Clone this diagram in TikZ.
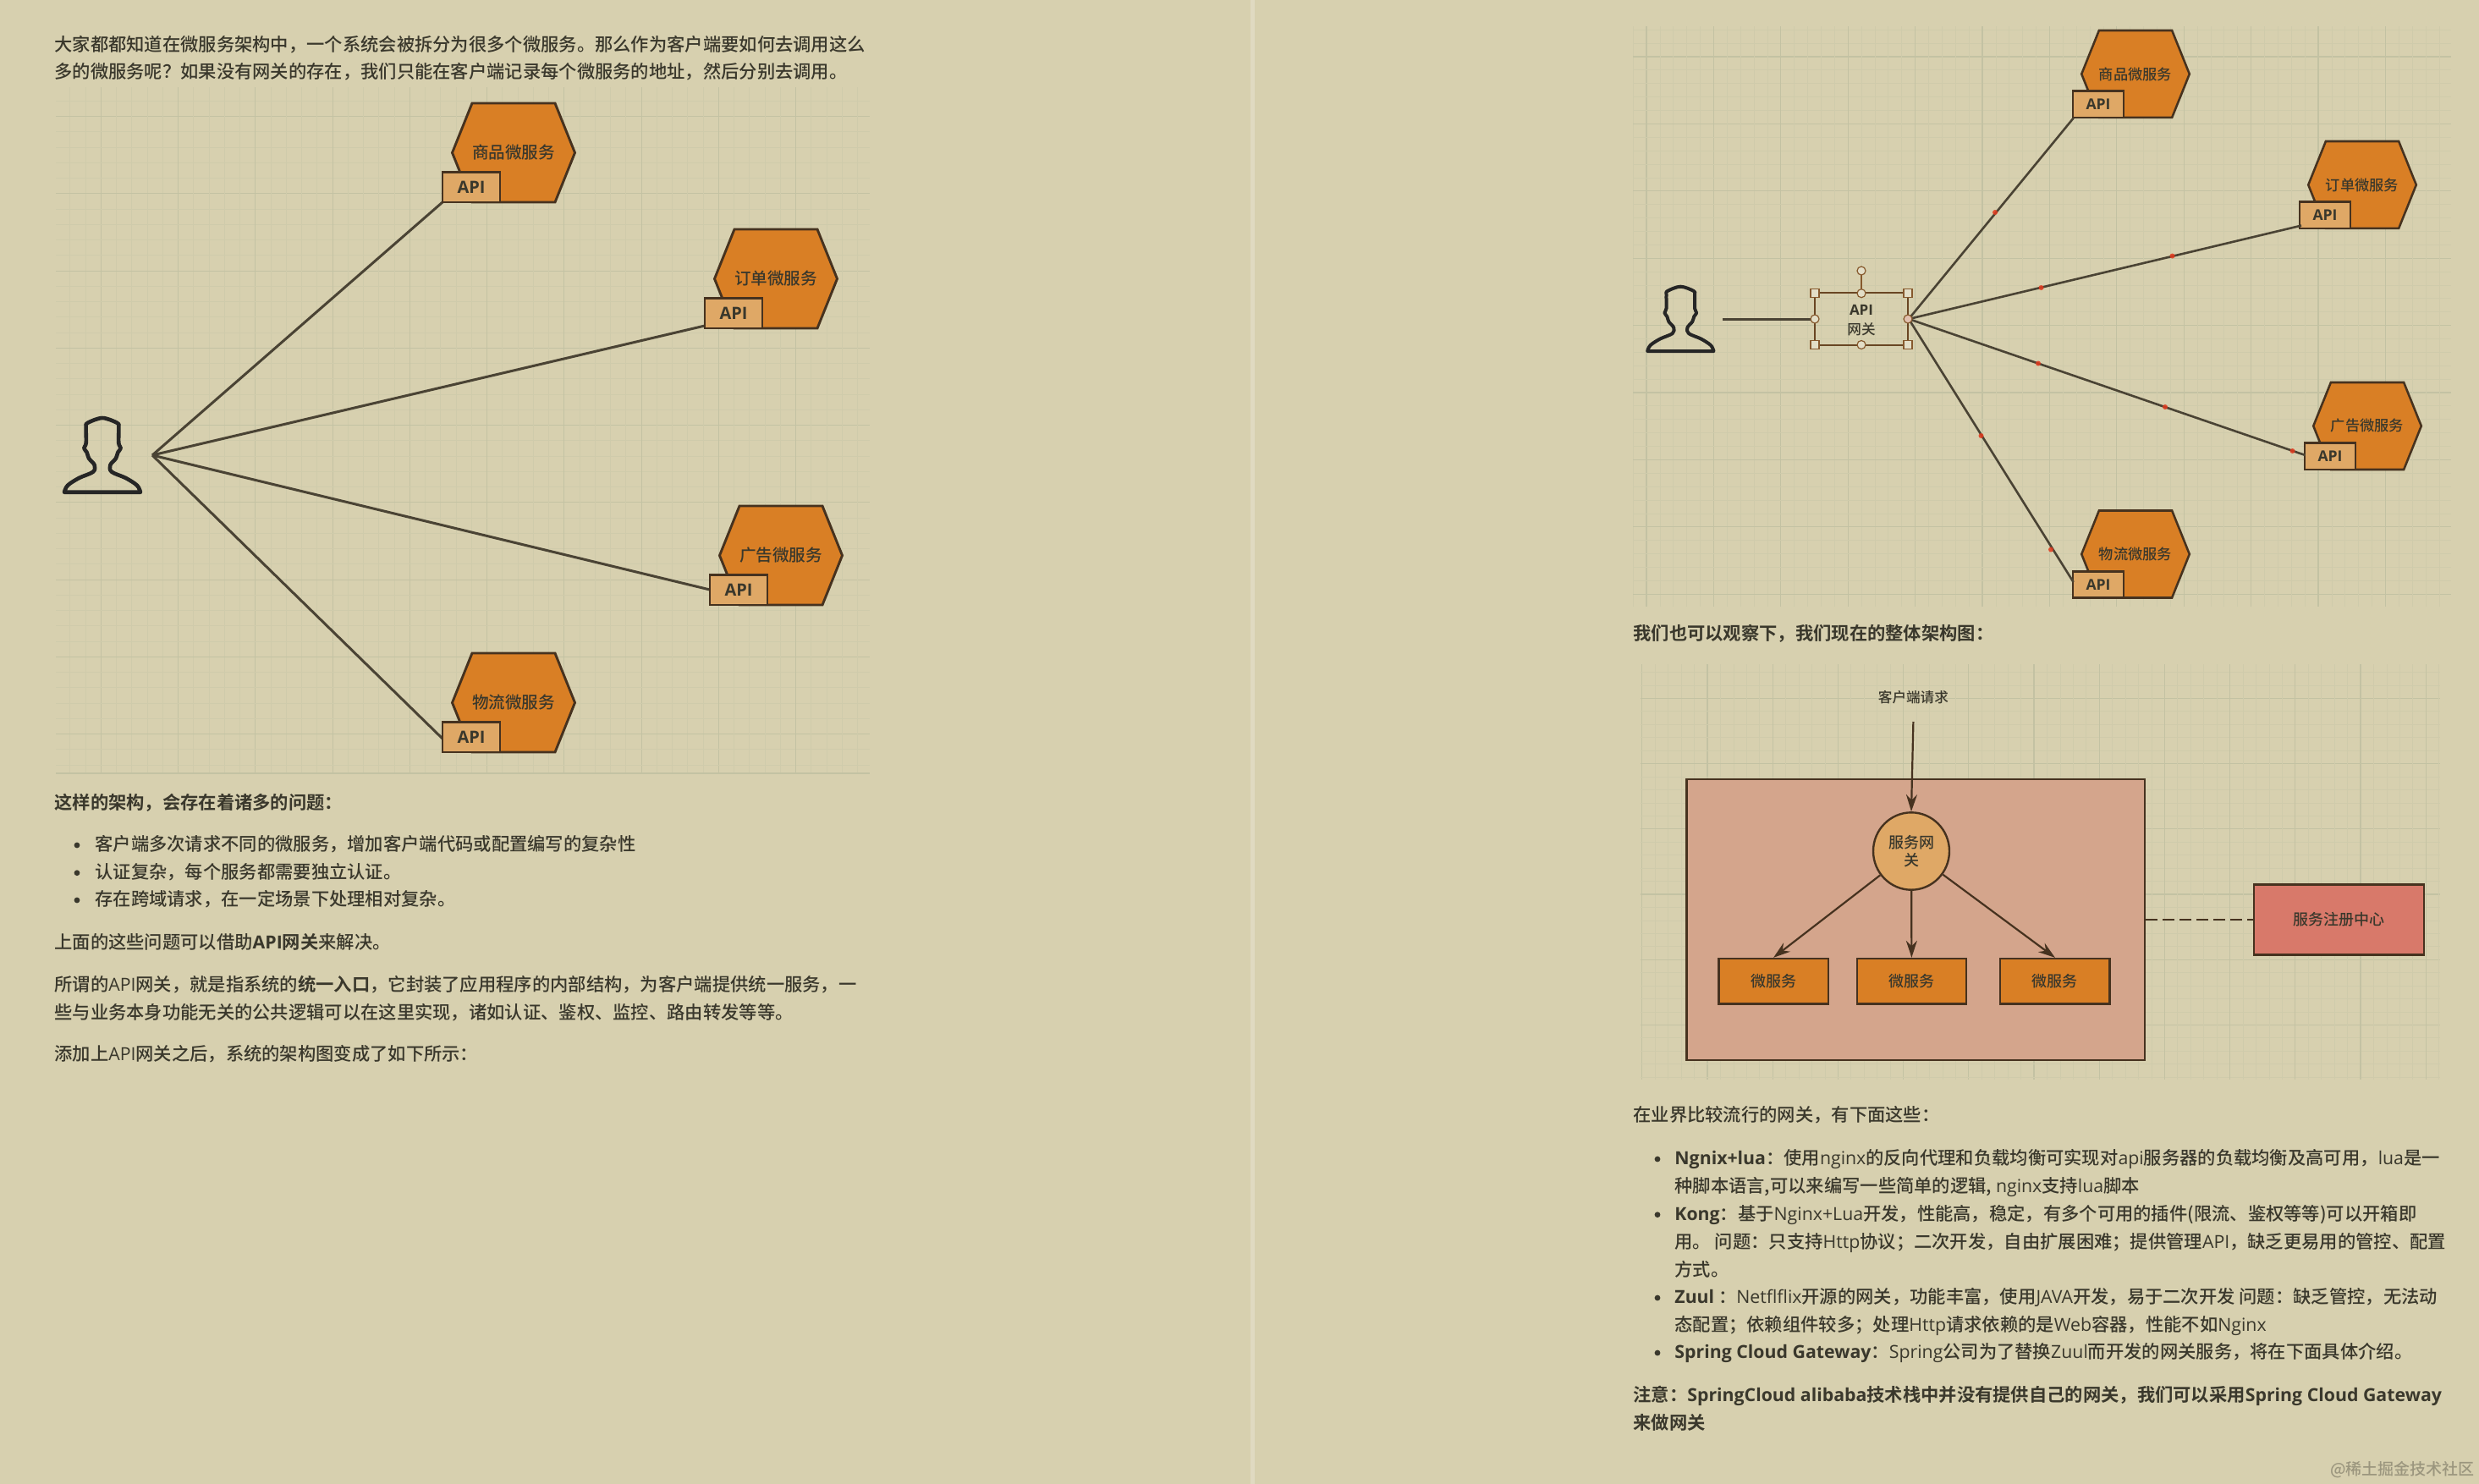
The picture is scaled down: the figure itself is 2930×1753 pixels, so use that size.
\documentclass[tikz,border=0pt]{standalone}
\usepackage{fontspec}
\setmainfont{Noto Sans CJK SC}[UprightFont=* Medium,BoldFont=* Bold]
\newfontfamily\latinfont{Open Sans}
\usetikzlibrary{arrows.meta,shapes.geometric}
\newcommand\la[1]{{\latinfont #1}}
\definecolor{paper}{HTML}{D7D0AF}
\definecolor{gridmajor}{HTML}{C3C2A3}
\definecolor{gridminor}{HTML}{CFCBAB}
\definecolor{inkc}{HTML}{3A382C}
\definecolor{edgec}{HTML}{46321F}
\definecolor{orangec}{HTML}{D97F25}
\definecolor{tanc}{HTML}{DFA866}
\definecolor{pinkc}{HTML}{D4A58C}
\definecolor{regc}{HTML}{D8796A}
\definecolor{linkc}{HTML}{4A4334}
\tikzset{
  txtline/.style={anchor=base west,inner sep=0pt,text=inkc,font=\fontsize{10.65}{12}\selectfont},
  bulletdot/.style={circle,fill=inkc,inner sep=0pt,minimum size=3.4pt},
  conn/.style={draw=linkc,line width=1.5pt},
  connr/.style={draw=linkc,line width=1.3pt},
  reddot/.style={circle,fill=red!55!brown,opacity=.85,inner sep=0pt,minimum size=3pt},
  hexsty/.style={draw=edgec,fill=orangec,line join=miter},
  apisty/.style={draw=edgec,fill=tanc,rectangle,inner sep=0pt,text=inkc},
  hexlabel/.style={inner sep=0pt,text=inkc},
  flowbox/.style={draw=edgec,line width=1.2pt,rectangle,inner sep=0pt,text=inkc,font=\fontsize{9}{10.5}\selectfont},
  flowarrow/.style={draw=edgec,line width=1.1pt,-{Stealth[length=10pt,width=6.5pt]}},
  handlesq/.style={draw=brown!70!black,fill=paper!70!white,line width=.6pt,rectangle,inner sep=0pt,minimum size=5pt},
  handlecirc/.style={draw=brown!70!black,fill=paper!70!white,line width=.6pt,circle,inner sep=0pt,minimum size=5pt},
  personicon/.pic={
    \draw[line width=#1,draw=black!85,line join=round]
      plot[smooth,tension=.55] coordinates {(-45,0) (-41,-8) (-27.7,-16.7) (-11,-24) (-9.3,-32) (-16,-40) (-18.3,-47) (-21.7,-52) (-19.3,-58) (-19.3,-77) (-17.7,-81.7) (0,-87.7) (17.7,-81.7) (19.3,-77) (19.3,-58) (21.7,-52) (18.3,-47) (16,-40) (9.3,-32) (11,-24) (27.7,-16.7) (41,-8) (45,0)} -- cycle;
  }
}
% name, centre x, top y, scale, label
\newcommand\svc[5]{%
  \pgfmathsetmacro\hta{#2-49*#4}\pgfmathsetmacro\htb{#2+49*#4}%
  \pgfmathsetmacro\hva{#2-72.5*#4}\pgfmathsetmacro\hvb{#2+72.5*#4}%
  \pgfmathsetmacro\hbot{#3+117*#4}\pgfmathsetmacro\hmid{#3+58.5*#4}%
  \pgfmathsetmacro\apix{#2-50*#4}\pgfmathsetmacro\apiy{#3+(117-17.75)*#4}%
  \pgfmathsetmacro\apiw{34*#4}\pgfmathsetmacro\apih{17.75*#4}%
  \pgfmathsetmacro\fsa{9.8*#4}\pgfmathsetmacro\fsb{10*#4}\pgfmathsetmacro\lw{1.45*#4}%
  \draw[hexsty,line width=\lw pt] (\hta,#3) -- (\htb,#3) -- (\hvb,\hmid) -- (\htb,\hbot) -- (\hta,\hbot) -- (\hva,\hmid) -- cycle;
  \node[hexlabel,font=\fontsize{\fsa}{\fsa}\selectfont] (#1) at (#2,\hmid) {#5};
  \node[apisty,line width=\lw pt,minimum width=\apiw pt,minimum height=\apih pt,font=\latinfont\bfseries\fontsize{\fsb}{\fsb}\selectfont] (#1api) at (\apix,\apiy) {API};
}
% x0 y0 x1 y1 xmajor ymajor spacing
\newcommand\gridzone[7]{%
  \begin{scope}
    \clip (#1,#2) rectangle (#3,#4);
    \foreach \i in {-10,...,60}{%
      \pgfmathtruncatemacro\md{mod(\i+100,5)}%
      \pgfmathsetmacro\gx{#5+\i*#7/5}%
      \pgfmathsetmacro\gy{#6+\i*#7/5}%
      \ifnum\md=0
        \draw[gridmajor,line width=.55pt] (\gx,#2) -- (\gx,#4);
        \draw[gridmajor,line width=.55pt] (#1,\gy) -- (#3,\gy);
      \else
        \draw[gridminor,line width=.4pt] (\gx,#2) -- (\gx,#4);
        \draw[gridminor,line width=.4pt] (#1,\gy) -- (#3,\gy);
      \fi
    }
  \end{scope}
}
\begin{document}
\begin{tikzpicture}[x=0.5pt,y=-0.5pt]
\path[use as bounding box] (0,0) rectangle (2930,1753);
\fill[paper] (-6,-6) rectangle (2936,1760);
\fill[paper!78!white] (1478,-6) rectangle (1483,1760);

% ---------- grids
\gridzone{66}{103}{1028}{914}{119.3}{137.6}{91.25}
\draw[gridmajor,line width=.55pt] (66,914) -- (1028,914);
\gridzone{1930}{31}{2897}{717}{1946}{67}{79.4}
\gridzone{1939}{785}{2884}{1276}{2018}{825.4}{77.2}

% ---------- left text
\node[txtline] (la) at (64,60.5) {大家都都知道在微服务架构中，一个系统会被拆分为很多个微服务。那么作为客户端要如何去调用这么};
\node[txtline] (lb) at (64,92.5) {多的微服务呢？如果没有网关的存在，我们只能在客户端记录每个微服务的地址，然后分别去调用。};
\node[txtline] (lc) at (64,956) {\bfseries 这样的架构，会存在着诸多的问题：};
\node[bulletdot] (lbd) at (91,999) {};
\node[txtline] (ld) at (112,1005) {客户端多次请求不同的微服务，增加客户端代码或配置编写的复杂性};
\node[bulletdot] (lbe) at (91,1031.7) {};
\node[txtline] (le) at (112,1038) {认证复杂，每个服务都需要独立认证。};
\node[bulletdot] (lbf) at (91,1064) {};
\node[txtline] (lf) at (112,1070) {存在跨域请求，在一定场景下处理相对复杂。};
\node[txtline] (lg) at (64,1121) {上面的这些问题可以借助\textbf{\la{API}网关}来解决。};
\node[txtline] (lh) at (64,1171) {所谓的\la{API}网关，就是指系统的\textbf{统一入口}，它封装了应用程序的内部结构，为客户端提供统一服务，一};
\node[txtline] (li) at (64,1204) {些与业务本身功能无关的公共逻辑可以在这里实现，诸如认证、鉴权、监控、路由转发等等。};
\node[txtline] (lj) at (64,1253) {添加上\la{API}网关之后，系统的架构图变成了如下所示：};

% ---------- left diagram
\coordinate (hubL) at (180,538);
\draw[conn] (hubL) -- (523,239);
\draw[conn] (hubL) -- (833,385);
\draw[conn] (hubL) -- (839,697);
\draw[conn] (hubL) -- (523,873);
\pic (personL) at (121,581.7) {personicon=2.3pt};
\svc{sA}{607}{122}{1}{商品微服务}
\svc{sB}{917}{271}{1}{订单微服务}
\svc{sC}{923}{598}{1}{广告微服务}
\svc{sD}{607}{772}{1}{物流微服务}

% ---------- right top diagram
\pic[scale=.87] (personR) at (1986.3,415) {personicon={2pt}};
\node[draw=brown!55!black,line width=1pt,rectangle,inner sep=0pt,minimum width=55pt,minimum height=30.7pt,align=center,text=inkc] (apigw) at (2200,377) {};
\coordinate (userEnd) at (2036,377);
\draw[conn] (userEnd) -- (apigw.west);
\node[inner sep=0pt,text=inkc,font=\latinfont\bfseries\fontsize{8.5}{8.5}\selectfont] (apigwa) at (2200,366.7) {API};
\node[inner sep=0pt,text=inkc,font=\fontsize{8.3}{8.3}\selectfont] (apigwb) at (2200,389) {网关};
\svc{rA}{2524}{36}{.88}{商品微服务}
\svc{rB}{2792}{167}{.88}{订单微服务}
\svc{rC}{2798}{452}{.88}{广告微服务}
\svc{rD}{2524}{603.5}{.88}{物流微服务}
\draw[connr] (apigw.east) -- (2450.6,139.6);
\draw[connr] (apigw.east) -- (2720,266.6);
\draw[connr] (apigw.east) -- (2724.6,538);
\draw[connr] (apigw.east) -- (2450.6,688);
\foreach \n/\p in {a/{2358,251},b/{2567.5,302.5},c/{2412.5,340},d/{2409,429.5},e/{2559,481},f/{2709.5,533},g/{2341.5,515},h/{2424,649.5}}
  \node[reddot] (red\n) at (\p) {};
\draw[brown!70!black,line width=.7pt] (2200,325) -- (2200,346.7);
\foreach \n/\p in {a/{2145,346.7},b/{2255,346.7},c/{2145,407.5},d/{2255,407.5}}
  \node[handlesq] (sq\n) at (\p) {};
\foreach \n/\p in {a/{2200,346.7},b/{2145,377},c/{2200,407.5},e/{2200,320}}
  \node[handlecirc] (ci\n) at (\p) {};
\node[handlecirc,fill=pinkc!70!white] (cid) at (2255,377) {};

% ---------- right architecture
\node[txtline] (ra) at (1930,756) {\bfseries 我们也可以观察下，我们现在的整体架构图：};
\node[flowbox,draw=edgec,fill=pinkc,minimum width=270.7pt,minimum height=166.25pt] (outer) at (2264,1087) {};
\node[inner sep=0pt,text=inkc,font=\fontsize{8.3}{8.3}\selectfont] (client) at (2261.4,824.5) {客户端请求};
\coordinate (clientEnd) at (2261.4,853);
\node[flowbox,ellipse,fill=tanc,minimum width=45pt,minimum height=45.7pt,align=center] (gw) at (2259,1006) {服务网\\关};
\draw[flowarrow] (clientEnd) -- (gw.north);
\node[flowbox,fill=orangec,minimum width=64.7pt,minimum height=26.7pt] (mA) at (2096.1,1159.7) {微服务};
\node[flowbox,fill=orangec,minimum width=64.7pt,minimum height=26.7pt] (mB) at (2259.4,1159.7) {微服务};
\node[flowbox,fill=orangec,minimum width=64.7pt,minimum height=26.7pt] (mC) at (2428.9,1159.7) {微服务};
\draw[flowarrow] (gw) -- (mA.north);
\draw[flowarrow] (gw) -- (mB.north);
\draw[flowarrow] (gw) -- (mC.north);
\node[flowbox,fill=regc,minimum width=100.5pt,minimum height=41.5pt] (reg) at (2764.5,1087) {服务注册中心};
\draw[draw=edgec,line width=1.4pt,dash pattern=on 7pt off 3pt] (outer.east) -- (reg.west);

% ---------- right text
\node[txtline] (rb) at (1930,1325) {在业界比较流行的网关，有下面这些：};
\node[bulletdot] (rbc) at (1959,1370) {};
\node[txtline] (rc) at (1979,1376.5) {\textbf{\la{Ngnix+lua}}：使用\la{nginx}的反向代理和负载均衡可实现对\la{api}服务器的负载均衡及高可用，\la{lua}是一};
\node[txtline] (rd) at (1979,1409) {种脚本语言,可以来编写一些简单的逻辑, \la{nginx}支持\la{lua}脚本};
\node[bulletdot] (rbe) at (1959,1435.7) {};
\node[txtline] (re) at (1979,1442) {\textbf{\la{Kong}}：基于\la{Nginx+Lua}开发，性能高，稳定，有多个可用的插件(限流、鉴权等等)可以开箱即};
\node[txtline] (rf) at (1979,1475) {用。 问题：只支持\la{Http}协议；二次开发，自由扩展困难；提供管理\la{API}，缺乏更易用的管控、配置};
\node[txtline] (rg) at (1979,1508) {方式。};
\node[bulletdot] (rbh) at (1959,1534) {};
\node[txtline] (rh) at (1979,1540.5) {\textbf{\la{Zuul}} ：\la{Netflflix}开源的网关，功能丰富，使用\la{JAVA}开发，易于二次开发 问题：缺乏管控，无法动};
\node[txtline] (ri) at (1979,1573) {态配置；依赖组件较多；处理\la{Http}请求依赖的是\la{Web}容器，性能不如\la{Nginx}};
\node[bulletdot] (rbj) at (1959,1599) {};
\node[txtline] (rj) at (1979,1605.5) {\textbf{\la{Spring Cloud Gateway}}：\la{Spring}公司为了替换\la{Zuul}而开发的网关服务，将在下面具体介绍。};
\node[txtline] (rk) at (1930,1656) {\bfseries 注意：\la{SpringCloud alibaba}技术栈中并没有提供自己的网关，我们可以采用\la{Spring Cloud Gateway}};
\node[txtline] (rl) at (1930,1689) {\bfseries 来做网关};
\node[anchor=base east,inner sep=0pt,text=paper!72!black,font=\fontsize{9.5}{10}\selectfont] (mark) at (2925,1743) {@稀土掘金技术社区};
\end{tikzpicture}
\end{document}
